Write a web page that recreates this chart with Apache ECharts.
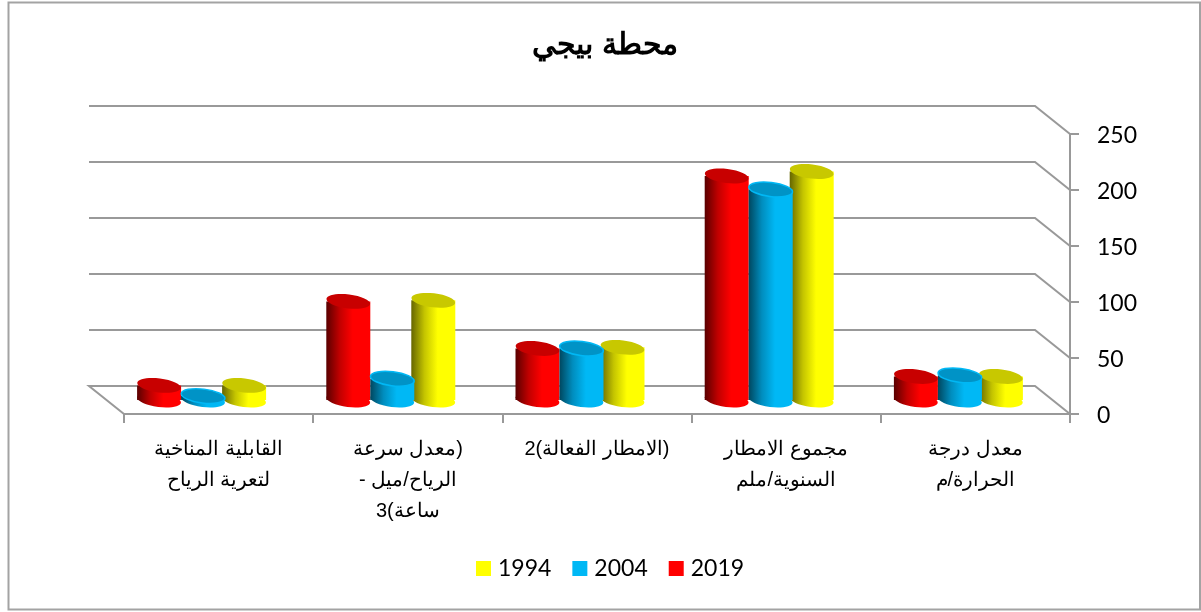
<!DOCTYPE html>
<html lang="ar">
<head>
<meta charset="utf-8">
<style>
  html, body { margin: 0; padding: 0; background: #fff; }
  #main { width: 1201px; height: 612px; direction: ltr; }
</style>
<script src="https://cdn.jsdelivr.net/npm/echarts@6/dist/echarts.min.js"></script>
</head>
<body>
<div id="main"></div>
<script>
// logical order of the strings is kept so the text comes out like the source picture
const categories = [
  "معدل درجة\nالحرارة/م",
  "مجموع الامطار\nالسنوية/ملم",
  "2(الامطار الفعالة)",
  "معدل سرعة)\n- الرياح/ميل\n3(ساعة",
  "القابلية المناخية\nلتعرية الرياح"
]
const values2019 = [21, 200, 46, 88, 13]
const values2004 = [22, 188, 46, 19, 3.5]
const values1994 = [21, 204, 47, 89, 13]
const valueTicks = [0, 50, 100, 150, 200, 250]
const legendOrder = ["1994", "2004", "2019"]

// depth of the fake 3d box, px
const depthX = 35
const depthY = 28
const axisGrey = "#999999"

const myChart = echarts.init(document.getElementById("main"), null, { renderer: "canvas" })

function renderWall(params, api) {
  let y = api.coord([0, api.value(0)])[1]
  let box = params.coordSys
  let left = box.x, right = box.x + box.width
  let pts = [
    [left - depthX, y - depthY],
    [right - depthX, y - depthY],
    [right, y]
  ]
  // the floor also has the left edge
  if (api.value(0) === 0) pts.unshift([left, y])
  return {
    type: "polyline",
    shape: { points: pts },
    style: { fill: null, stroke: axisGrey, lineWidth: 2 }
  }
}

function gradient(dark, mid, main) {
  return new echarts.graphic.LinearGradient(0, 0, 1, 0, [
    { offset: 0, color: dark },
    { offset: 0.3, color: mid },
    { offset: 0.6, color: main },
    { offset: 1, color: main }
  ])
}

function cylinder(offset, colors) {
  return function (params, api) {
    let top = api.coord([api.value(0), api.value(1)])
    let base = api.coord([api.value(0), 0])
    let cx = top[0] - depthX / 2 + offset
    let topY = top[1] - depthY / 2
    let baseY = base[1] - depthY / 2
    let rx = 22
    let ry = 7
    let tilt = -0.12
    let fill = gradient(colors.dark, colors.mid, colors.main)
    return {
      type: "group",
      children: [
        {
          type: "ellipse",
          shape: { cx: cx, cy: baseY, rx: rx, ry: ry },
          rotation: tilt, originX: cx, originY: baseY,
          style: { fill: fill }
        },
        {
          type: "rect",
          shape: { x: cx - rx, y: topY, width: rx * 2, height: baseY - topY },
          style: { fill: fill }
        },
        {
          type: "ellipse",
          shape: { cx: cx, cy: topY, rx: rx, ry: ry },
          rotation: tilt, originX: cx, originY: topY,
          style: { fill: colors.top, stroke: colors.rim, lineWidth: colors.rim ? 1.5 : 0 }
        }
      ]
    }
  }
}

function barSeries(name, data, offset, z, colors) {
  return {
    name: name,
    type: "custom",
    z: z,
    silent: true,
    itemStyle: { color: colors.main },
    encode: { x: 0, y: 1 },
    data: data.map((v, i) => [i, v]),
    renderItem: cylinder(offset, colors)
  }
}

const option = {
  animation: false,
  backgroundColor: "#fff",
  title: {
    text: "محطة بيجي",
    left: 600,
    top: 26,
    textAlign: "center",
    textStyle: { fontFamily: "Liberation Sans", fontSize: 30, fontWeight: "bold", color: "#000" }
  },
  legend: {
    data: legendOrder,
    left: 471,
    top: 552,
    icon: "rect",
    itemWidth: 15,
    itemHeight: 15,
    itemGap: 21,
    selectedMode: false,
    textStyle: { fontFamily: "Lato", fontSize: 23, color: "#000", padding: [0, 0, 0, 2] }
  },
  grid: { left: 124, right: 131, top: 134, height: 280 },
  xAxis: {
    type: "category",
    inverse: true,
    data: categories,
    axisLine: { show: true, lineStyle: { color: axisGrey, width: 2 } },
    axisTick: { show: true, alignWithLabel: false, length: 9, lineStyle: { color: axisGrey, width: 2 } },
    axisLabel: {
      interval: 0,
      margin: 20,
      fontFamily: "Liberation Sans",
      fontSize: 20,
      lineHeight: 31,
      color: "#000"
    }
  },
  yAxis: {
    type: "value",
    position: "right",
    min: 0,
    max: 250,
    interval: 50,
    axisLine: { show: true, lineStyle: { color: axisGrey, width: 2 } },
    axisTick: { show: true, length: 9, lineStyle: { color: axisGrey, width: 2 } },
    splitLine: { show: false },
    axisLabel: { margin: 27, fontFamily: "Lato", fontSize: 23, color: "#000", verticalAlign: "top", lineHeight: 4 }
  },
  graphic: [{
    type: "rect",
    silent: true,
    shape: { x: 8.5, y: 2.5, width: 1191.5, height: 607 },
    style: { fill: null, stroke: "#A3A3A3", lineWidth: 2 }
  }],
  series: [
    {
      type: "custom",
      z: 1,
      silent: true,
      encode: { y: 0 },
      data: valueTicks.map(v => [v]),
      renderItem: renderWall
    },
    barSeries("2019", values2019, -42, 2, { dark: "#5A0000", mid: "#C00000", main: "#FF0000", top: "#C80000" }),
    barSeries("1994", values1994, 43, 3, { dark: "#666600", mid: "#C4C400", main: "#FFFF00", top: "#C8C800" }),
    barSeries("2004", values2004, 2, 4, { dark: "#00475F", mid: "#008DBE", main: "#00B8F5", top: "#0093C6", rim: "#00B8F5" })
  ]
}

myChart.setOption(option)
</script>
</body>
</html>
